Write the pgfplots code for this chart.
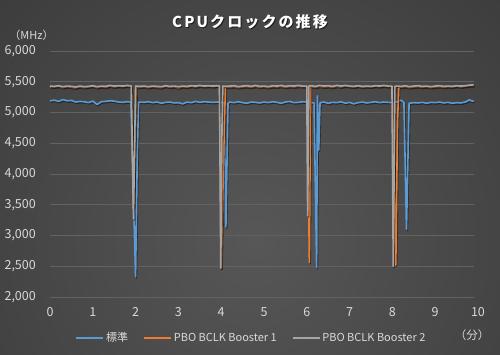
\documentclass[border=0pt]{standalone}
\usepackage{fontspec}
\setmainfont{Noto Sans CJK JP}
\usepackage{pgfplots}
\usepackage{pgfplotstable}
\pgfplotsset{compat=1.18}
\definecolor{cblue}{HTML}{5B9BD5}
\definecolor{corange}{HTML}{ED7D31}
\definecolor{cgray}{HTML}{A5A5A5}
\definecolor{bgout}{HTML}{242424}
\definecolor{bgin}{HTML}{575757}
\definecolor{gridc}{HTML}{626262}
\definecolor{txt}{HTML}{D9D9D9}

\pgfplotstableread{
x y
0.0 5190
0.1 5200
0.2 5180
0.3 5210
0.4 5190
0.5 5195
0.6 5170
0.7 5180
0.8 5175
0.9 5160
1.0 5185
1.1 5130
1.2 5175
1.3 5180
1.4 5190
1.5 5185
1.6 5170
1.7 5165
1.8 5175
1.89 5170
2.00 2330
2.04 4340
2.07 5160
2.1 5170
2.2 5165
2.3 5175
2.4 5160
2.5 5170
2.6 5150
2.7 5165
2.8 5170
2.9 5155
3.0 5160
3.1 5140
3.2 5170
3.3 5160
3.4 5180
3.5 5165
3.6 5175
3.7 5170
3.8 5165
3.9 5170
3.99 5165
4.07 5150
4.11 3140
4.16 5150
4.2 5170
4.3 5160
4.4 5175
4.5 5160
4.6 5150
4.7 5170
4.8 5165
4.9 5155
5.0 5170
5.1 5160
5.2 5175
5.3 5165
5.4 5150
5.5 5170
5.6 5180
5.7 5160
5.8 5165
5.9 5175
6.0 5170
6.1 5160
6.17 5155
6.23 2480
6.25 5270
6.28 4390
6.31 5160
6.4 5170
6.5 5150
6.6 5165
6.7 5160
6.8 5175
6.9 5150
7.0 5165
7.1 5140
7.2 5160
7.3 5170
7.4 5155
7.5 5165
7.6 5175
7.7 5160
7.8 5170
7.9 5165
8.0 5160
8.1 5170
8.2 5200
8.27 5160
8.33 3100
8.39 5150
8.5 5160
8.6 5155
8.7 5165
8.8 5150
8.9 5165
9.0 5160
9.1 5170
9.2 5155
9.3 5165
9.4 5150
9.5 5160
9.6 5155
9.7 5170
9.8 5205
9.85 5190
9.9 5180
}\blue

\pgfplotstableread{
x y
0.0 5420
0.1 5415
0.2 5425
0.3 5405
0.4 5420
0.5 5410
0.6 5400
0.7 5420
0.8 5405
0.9 5415
1.0 5425
1.1 5405
1.2 5420
1.3 5410
1.4 5430
1.5 5415
1.6 5425
1.7 5420
1.8 5430
1.90 5420
1.95 3450
2.02 5420
2.1 5410
2.2 5420
2.3 5405
2.4 5420
2.5 5410
2.6 5405
2.7 5425
2.8 5410
2.9 5420
3.0 5400
3.1 5420
3.2 5410
3.3 5425
3.4 5415
3.5 5430
3.6 5420
3.7 5425
3.8 5420
3.9 5425
3.96 5420
4.00 2470
4.07 4670
4.10 5420
4.2 5410
4.3 5420
4.4 5405
4.5 5415
4.6 5420
4.7 5410
4.8 5425
4.9 5410
5.0 5420
5.1 5405
5.2 5420
5.3 5415
5.4 5425
5.5 5410
5.6 5420
5.7 5415
5.8 5425
5.9 5420
6.01 5420
6.06 2560
6.09 5420
6.2 5410
6.3 5425
6.4 5415
6.5 5420
6.6 5410
6.7 5425
6.8 5415
6.9 5430
7.0 5420
7.1 5415
7.2 5425
7.3 5410
7.4 5420
7.5 5415
7.6 5425
7.7 5420
7.8 5430
7.9 5420
8.00 5420
8.08 2520
8.12 4850
8.15 5420
8.2 5410
8.3 5420
8.4 5405
8.5 5415
8.6 5420
8.7 5410
8.8 5420
8.9 5405
9.0 5415
9.1 5420
9.2 5410
9.3 5420
9.4 5415
9.5 5425
9.6 5415
9.7 5425
9.8 5435
9.9 5440
}\orange

\pgfplotstableread{
x y
0.0 5430
0.1 5425
0.2 5435
0.3 5420
0.4 5430
0.5 5425
0.6 5415
0.7 5430
0.8 5420
0.9 5425
1.0 5435
1.1 5420
1.2 5430
1.3 5425
1.4 5440
1.5 5430
1.6 5435
1.7 5430
1.8 5440
1.90 5430
1.95 3270
2.00 5430
2.1 5425
2.2 5430
2.3 5420
2.4 5430
2.5 5425
2.6 5420
2.7 5435
2.8 5425
2.9 5430
3.0 5420
3.1 5430
3.2 5425
3.3 5435
3.4 5430
3.5 5440
3.6 5430
3.7 5435
3.8 5430
3.9 5435
3.96 5430
3.99 2470
4.02 4810
4.04 5430
4.1 5425
4.2 5430
4.3 5435
4.4 5420
4.5 5430
4.6 5435
4.7 5425
4.8 5440
4.9 5425
5.0 5430
5.1 5420
5.2 5435
5.3 5430
5.4 5440
5.5 5425
5.6 5435
5.7 5430
5.8 5440
5.9 5430
6.00 5430
6.02 3320
6.05 5430
6.1 5435
6.2 5425
6.3 5440
6.4 5430
6.5 5435
6.6 5425
6.7 5440
6.8 5430
6.9 5440
7.0 5430
7.1 5425
7.2 5435
7.3 5425
7.4 5430
7.5 5425
7.6 5435
7.7 5430
7.8 5440
7.9 5430
7.99 5430
8.02 2500
8.06 5425
8.1 5430
8.2 5425
8.3 5435
8.4 5420
8.5 5430
8.6 5435
8.7 5425
8.8 5430
8.9 5420
9.0 5430
9.1 5435
9.2 5425
9.3 5430
9.4 5425
9.5 5435
9.6 5430
9.7 5435
9.8 5445
9.9 5450
}\gray

\begin{document}
\begin{tikzpicture}[x=1pt,y=1pt]
\useasboundingbox (0,0) rectangle (500,355);
\fill[bgout] (0,0) rectangle (500,355);
\begin{scope}
\clip (0,0) rectangle (500,355);
\shade[inner color=bgin, outer color=bgout] (255,115) circle (680pt);
\end{scope}
\node[font=\bfseries\fontsize{15}{18}\selectfont\addfontfeature{LetterSpace=14}, text=black, opacity=0.6] at (251,332) {CPUクロックの推移};
\node[font=\bfseries\fontsize{15}{18}\selectfont\addfontfeature{LetterSpace=14}, text=white] at (250,333) {CPUクロックの推移};
\node[font=\fontsize{11}{13}\selectfont, text=txt] at (31.5,320) {（MHz）};
\node[font=\fontsize{11.5}{13}\selectfont, text=txt] at (472,20) {（分）};
\begin{axis}[
  at={(50pt,58pt)}, anchor=south west,
  scale only axis, width=423.7pt, height=246pt,
  xmin=0, xmax=9.9, ymin=2000, ymax=6000,
  xtick={0,1,...,9}, ytick={2000,2500,...,6000},
  axis line style={draw=none},
  major tick length=0pt,
  ymajorgrids, grid style={gridc, line width=0.8pt},
  ticklabel style={font=\fontsize{12.5}{14}\selectfont, text=txt},
  yticklabel style={anchor=east, inner sep=0pt, xshift=-14pt},
  xticklabel style={anchor=north, inner sep=0pt, yshift=-10pt},
  /pgf/number format/.cd, 1000 sep={,}, assume math mode=true,
  /pgfplots/.cd,
  clip=false,
  legend columns=3,
  legend style={at={(0.4756,-0.1667)}, anchor=center, draw=none, fill=none,
    text=txt, font=\fontsize{11}{13}\selectfont,
    /tikz/every even column/.append style={column sep=13pt},
    inner sep=0pt},
  legend image code/.code={\draw[#1] (0pt,0pt) -- (27pt,0pt);},
  every axis plot/.append style={line width=1.6pt, line join=round},
]
\addplot[black, opacity=0.45, forget plot, shift={(0.8pt,-1.2pt)}] table {\blue};
\addplot[cblue] table {\blue};
\addlegendentry{標準}
\addplot[black, opacity=0.45, forget plot, shift={(0.8pt,-1.2pt)}] table {\orange};
\addplot[corange] table {\orange};
\addlegendentry{PBO BCLK Booster 1}
\addplot[black, opacity=0.45, forget plot, shift={(0.8pt,-1.2pt)}] table {\gray};
\addplot[cgray] table {\gray};
\addlegendentry{PBO BCLK Booster 2}
\node[font=\fontsize{12.5}{14}\selectfont, text=txt, anchor=north, inner sep=0pt, yshift=-10pt] at (axis cs:10,2000) {10};
\end{axis}
\end{tikzpicture}
\end{document}
